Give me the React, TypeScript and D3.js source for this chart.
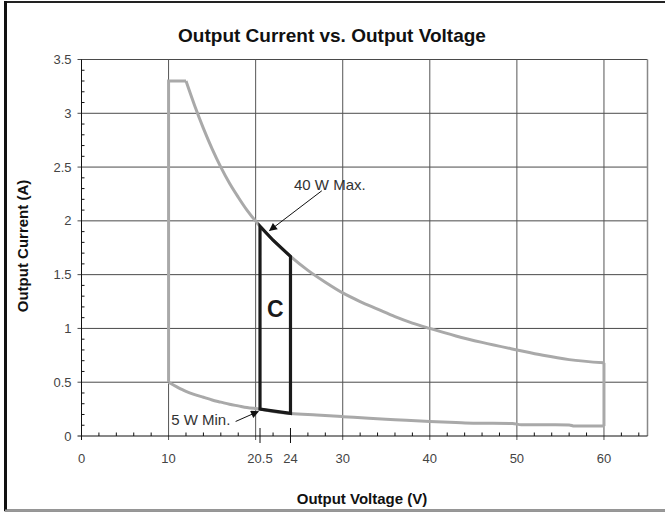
import * as d3 from "d3";

// values
const upperV = [12, 13, 14, 15, 16, 17, 18, 19, 20.5, 22, 24, 26, 28, 30, 32, 34, 36, 38, 40, 43, 46, 50, 53, 56, 60];
const upperA = [3.3, 3.07, 2.86, 2.67, 2.5, 2.35, 2.22, 2.1, 1.95, 1.82, 1.67, 1.54, 1.43, 1.33, 1.25, 1.18, 1.11, 1.05, 1.0, 0.93, 0.87, 0.8, 0.75, 0.71, 0.68];

const lowerV = [10, 11, 12, 13, 14, 15, 16, 17, 18, 19, 20.5, 22, 24, 27, 30, 33, 36, 40, 43, 45, 49.5, 50.5, 56, 56.6, 60];
const lowerA = [0.5, 0.455, 0.415, 0.385, 0.36, 0.335, 0.315, 0.295, 0.28, 0.265, 0.25, 0.228, 0.21, 0.195, 0.18, 0.165, 0.152, 0.135, 0.125, 0.119, 0.116, 0.105, 0.103, 0.092, 0.092];

// constant-current start and the 60 V edge
const startV = [10, 10, 12];
const startA = [0.5, 3.3, 3.3];
const endV = [60, 60];
const endA = [0.68, 0.092];

// region C
const regionV = [20.5, 20.5, 22, 24, 24];
const regionA = [0.25, 1.95, 1.82, 1.67, 0.21];

const xMajor = [10, 20, 30, 40, 50, 60];
const xLabels = [0, 10, 20.5, 24, 30, 40, 50, 60];
const xSpecial = [20.5, 24];
const yTicks = [0, 0.5, 1, 1.5, 2, 2.5, 3, 3.5];

// annotation anchors, data units: [textV, textA, fromV, fromA, toV, toA]
const maxNote = { label: "40 W Max.", text: [24.4, 2.29], from: [27.6, 2.28], to: [21.6, 1.91] };
const minNote = { label: "5 W Min.", text: [10.3, 0.1], from: [17.7, 0.135], to: [20.3, 0.228] };

const W = 665;
const H = 512;

export default function App() {
  const x = d3.scaleLinear().domain([0, 65]).range([81.5, 647.5]);
  const y = d3.scaleLinear().domain([0, 3.5]).range([436, 59.5]);

  const smooth = d3
    .line<[number, number]>()
    .x((d) => x(d[0]))
    .y((d) => y(d[1]))
    .curve(d3.curveMonotoneX);
  const straight = d3
    .line<[number, number]>()
    .x((d) => x(d[0]))
    .y((d) => y(d[1]));

  const zip = (a: number[], b: number[]) => a.map((v, i) => [v, b[i]] as [number, number]);

  const minorX = d3.range(0, 65.01, 2).filter((v) => v % 10 !== 0);
  const minorY = d3.range(0, 3.501, 0.1).filter((v) => Math.abs(v * 2 - Math.round(v * 2)) > 0.01);

  const x0 = x(0);
  const y0 = y(0);
  const font = "'Liberation Sans', Arial, Helvetica, sans-serif";
  const gray = "#a9a9a9";

  return (
    <svg
      width={W}
      height={H}
      style={{ position: "absolute", left: 0, top: 0, background: "#fff" }}
      fontFamily={font}
    >
      <defs>
        <marker id="arrow" viewBox="0 0 10 10" refX="9" refY="5" markerWidth="10" markerHeight="8" markerUnits="userSpaceOnUse" orient="auto">
          <path d="M0,0 L10,5 L0,10 Z" fill="#111" />
        </marker>
      </defs>

      {/* frame */}
      <rect x={5.5} y={2} width={700} height={508.5} fill="none" stroke="#222" strokeWidth={2} />
      <line x1={5.5} x2={5.5} y1={1} y2={511} stroke="#111" strokeWidth={3} />
      <line x1={5} x2={665} y1={510.5} y2={510.5} stroke="#999" strokeWidth={2} />

      <text x={332} y={41.5} textAnchor="middle" fontSize={19} fontWeight="bold" fill="#111">
        Output Current vs. Output Voltage
      </text>

      {/* grid */}
      {yTicks.slice(1).map((t) => (
        <line key={"gy" + t} x1={x0 - 4} x2={x(65)} y1={y(t)} y2={y(t)} stroke="#4a4a4a" strokeWidth={1} />
      ))}
      {xMajor.map((t) => (
        <line key={"gx" + t} x1={x(t)} x2={x(t)} y1={y(3.5)} y2={y0 + 4} stroke="#555" strokeWidth={1} />
      ))}
      <line x1={x(65)} x2={x(65)} y1={y(3.5)} y2={y0} stroke="#888" strokeWidth={1.5} />

      {/* axes */}
      <line x1={x0} x2={x0} y1={y(3.5)} y2={y0 + 4} stroke="#111" strokeWidth={1} />
      <line x1={x0 - 4} x2={x(65)} y1={y0} y2={y0} stroke="#111" strokeWidth={1} />
      {minorX.map((t) => (
        <line key={"mx" + t} x1={x(t)} x2={x(t)} y1={y0 - 3.5} y2={y0} stroke="#111" strokeWidth={1} />
      ))}
      {minorY.map((t) => (
        <line key={"my" + t} x1={x0} x2={x0 + 3} y1={y(t)} y2={y(t)} stroke="#111" strokeWidth={1} />
      ))}
      {xSpecial.map((t) => (
        <line key={"sx" + t} x1={x(t)} x2={x(t)} y1={y0 - 8} y2={y0 + 7} stroke="#111" strokeWidth={1} />
      ))}

      {/* tick labels */}
      {yTicks.map((t) => (
        <text key={"ly" + t} x={x0 - 10} y={y(t) + 4.5} textAnchor="end" fontSize={13} fill="#444">
          {t}
        </text>
      ))}
      {xLabels.map((t) => (
        <text key={"lx" + t} x={x(t)} y={y0 + 27} textAnchor="middle" fontSize={13} fill="#444">
          {t}
        </text>
      ))}

      <text x={362} y={503.5} textAnchor="middle" fontSize={15} fontWeight="bold" fill="#111">
        Output Voltage (V)
      </text>
      <text transform={`translate(28,246) rotate(-90)`} textAnchor="middle" fontSize={15} fontWeight="bold" fill="#111">
        Output Current (A)
      </text>

      {/* operating envelope */}
      <g fill="none" stroke={gray} strokeWidth={3} strokeLinejoin="miter">
        <path d={straight(zip(startV, startA)) ?? ""} />
        <path d={smooth(zip(upperV, upperA)) ?? ""} />
        <path d={straight(zip(endV, endA)) ?? ""} />
        <path d={smooth(zip(lowerV, lowerA)) ?? ""} />
      </g>

      {/* region C */}
      <path d={(straight(zip(regionV, regionA)) ?? "") + "Z"} fill="none" stroke="#1a1a1a" strokeWidth={3.2} strokeLinejoin="miter" />
      <text x={x(22.25)} y={y(1.11)} textAnchor="middle" fontSize={23} fontWeight="bold" fill="#1a1a1a">
        C
      </text>

      {/* annotations */}
      {[maxNote, minNote].map((n) => (
        <g key={n.label}>
          <text x={x(n.text[0])} y={y(n.text[1])} fontSize={15} fill="#333">
            {n.label}
          </text>
          <line
            x1={x(n.from[0])}
            y1={y(n.from[1])}
            x2={x(n.to[0])}
            y2={y(n.to[1])}
            stroke="#111"
            strokeWidth={1}
            markerEnd="url(#arrow)"
          />
        </g>
      ))}
    </svg>
  );
}
